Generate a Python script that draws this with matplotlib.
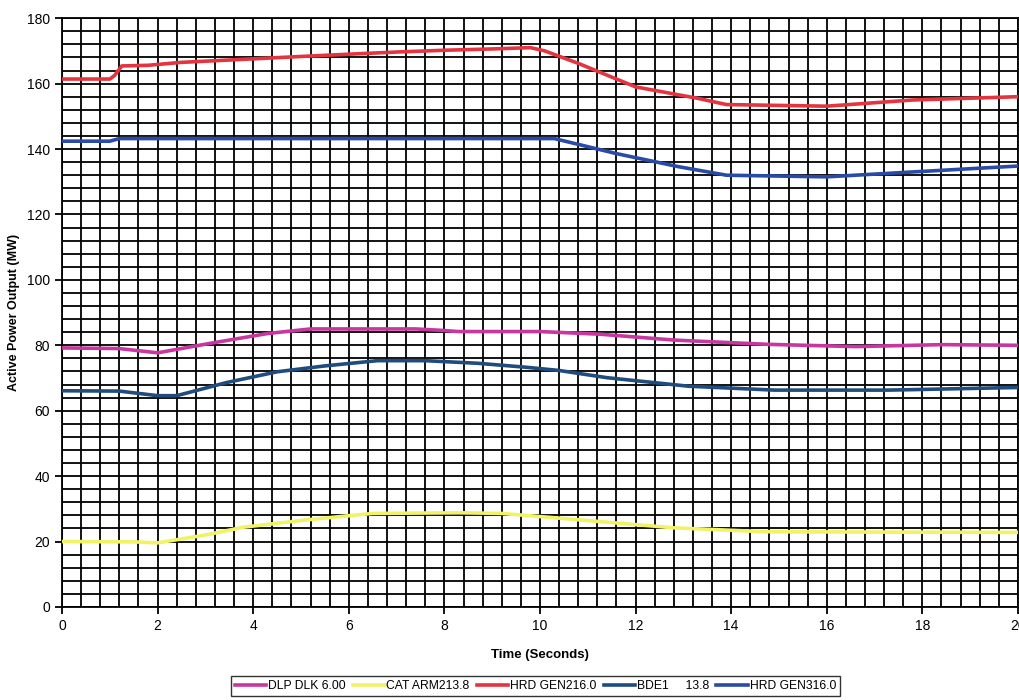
import matplotlib
matplotlib.use("Agg")
import matplotlib.pyplot as plt
import numpy as np
from matplotlib.ticker import MultipleLocator

plt.rcParams['font.family'] = ['Liberation Sans', 'DejaVu Sans']

# Data
t_dlp = [0, 1.2, 2.0, 3.1, 4.3, 5.2, 7.4, 7.9, 8.3, 10.0, 11.25, 12.8, 14.75, 16.6, 18.4, 20]
dlp = [79.2, 79.0, 77.7, 80.6, 83.6, 85.0, 85.0, 84.6, 84.2, 84.2, 83.4, 81.6, 80.3, 79.6, 80.2, 80.0]

t_cat = [0, 1.5, 2.0, 3.0, 3.8, 5.1, 6.5, 8.3, 9.2, 10.2, 12.8, 14.7, 17, 20]
cat = [20.0, 19.9, 19.6, 22.0, 24.4, 26.6, 28.6, 28.8, 28.6, 27.4, 24.2, 23.0, 22.9, 22.8]

t_hrd2 = [0, 1.0, 1.1, 1.25, 1.8, 2.5, 3.9, 5.0, 6.0, 7.07, 8.0, 9.0, 9.8, 10.1, 10.8, 12.0, 13.3, 13.9, 16.0, 17.8, 20]
hrd2 = [161.4, 161.4, 162.5, 165.4, 165.6, 166.5, 167.5, 168.3, 169.0, 169.7, 170.2, 170.6, 171.0, 170.0, 166.2, 159.0, 155.5, 153.6, 153.1, 155.0, 156.0]

t_bde = [0, 1.2, 2.0, 2.4, 3.44, 4.5, 5.5, 6.6, 7.6, 8.7, 9.7, 10.4, 11.4, 13.1, 14.9, 17.3, 20]
bde = [66.1, 66.0, 64.6, 64.6, 68.6, 71.9, 73.7, 75.3, 75.3, 74.5, 73.3, 72.3, 70.1, 67.5, 66.3, 66.3, 67.1]

t_hrd3 = [0, 1.0, 1.2, 5.0, 7.07, 10.3, 11.6, 12.9, 13.9, 16.0, 17.8, 20]
hrd3 = [142.4, 142.4, 143.2, 143.2, 143.2, 143.2, 138.6, 134.6, 132.0, 131.5, 133.0, 134.8]

labels = ["DLP DLK 6.00", "CAT ARM213.8", "HRD GEN216.0", "BDE1     13.8", "HRD GEN316.0"]
colors = ["#C8379F", "#F2F266", "#E33440", "#1F4C7C", "#2A4AA8"]

x_ticks = [0, 2, 4, 6, 8, 10, 12, 14, 16, 18, 20]
y_ticks = [0, 20, 40, 60, 80, 100, 120, 140, 160, 180]

fig = plt.figure(figsize=(10.2, 7.0), dpi=100)
ax = fig.add_axes([0.0608, 0.1329, 0.9372, 0.8411])

series = [(t_dlp, dlp), (t_cat, cat), (t_hrd2, hrd2), (t_bde, bde), (t_hrd3, hrd3)]
for (tx, ty), lab, c in zip(series, labels, colors):
    ax.plot(tx, ty, color=c, lw=2.6, label=lab, zorder=3)

ax.set_xlim(0, 20)
ax.set_ylim(0, 180)
ax.set_xticks(x_ticks)
ax.set_yticks(y_ticks)
ax.xaxis.set_minor_locator(MultipleLocator(0.4))
ax.yaxis.set_minor_locator(MultipleLocator(4))
ax.grid(which='both', color='black', lw=1.3, zorder=1)
ax.set_axisbelow(True)
for s in ax.spines.values():
    s.set_color('black')
    s.set_linewidth(1.3)
ax.tick_params(which='major', length=5, width=1.3, labelsize=10, colors='black')
ax.tick_params(which='minor', length=0)

ax.set_xlabel("Time (Seconds)", fontsize=9.5, fontweight='bold', labelpad=12)
ax.set_ylabel("Active Power Output (MW)", fontsize=9, fontweight='bold', labelpad=5)

leg = fig.legend(loc='lower center', bbox_to_anchor=(0.525, 0.0), ncol=5,
                 frameon=True, fancybox=False, edgecolor='black', fontsize=8.7,
                 handlelength=2.6, handletextpad=0.15, columnspacing=0.6,
                 borderpad=0.35, borderaxespad=0.3)
leg.get_frame().set_linewidth(1.0)

fig.savefig("out.png", dpi=100, facecolor='white')
